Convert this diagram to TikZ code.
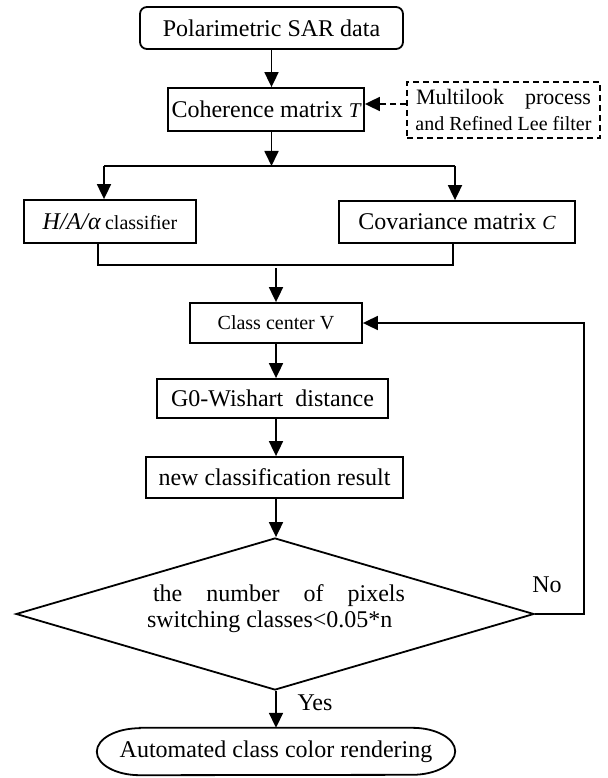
\documentclass[tikz,border=0pt]{standalone}
\usepackage{fontspec}
\setmainfont{Liberation Serif}
\usetikzlibrary{arrows.meta,shapes.geometric}
\begin{document}
\begin{tikzpicture}[x=1pt,y=-1pt,
  txt/.style={font=\fontsize{24pt}{28pt}\selectfont, inner sep=0pt},
  box/.style={txt, draw, line width=1.8pt},
  arr/.style={line width=1.8pt, -{Triangle[length=15pt,width=14pt]}},
  ln/.style={line width=1.8pt},
  dashline/.style={dash pattern=on 6pt off 4pt}
]
\useasboundingbox (0,0) rectangle (607,778);
% nodes
\node[box, rounded corners=7pt, minimum width=263pt, minimum height=42pt] (sar) at (271.5,28) {Polarimetric SAR data};
\node[box, minimum width=196pt, minimum height=43pt] (coh) at (266,109.5) {Coherence matrix {\fontsize{21pt}{24pt}\selectfont\itshape T}};
\node[box, dashline, minimum width=193pt, minimum height=56pt, align=center, font=\fontsize{20pt}{26pt}\selectfont] (multi) at (503.5,110) {{\fontsize{22pt}{26pt}\selectfont\makebox[175pt][s]{Multilook process}}\\and Refined Lee filter};
\node[box, minimum width=172pt, minimum height=43pt] (ha) at (110,221.5) {\textit{H/A/α}\,{\fontsize{20pt}{24pt}\selectfont classifier}};
\node[box, minimum width=236pt, minimum height=42pt] (cov) at (457,222) {Covariance matrix {\fontsize{20pt}{24pt}\selectfont\itshape C}};
\node[box, font=\fontsize{20pt}{24pt}\selectfont, minimum width=172pt, minimum height=40pt] (cls) at (276,323) {Class center V};
\node[box, minimum width=231pt, minimum height=39pt] (g0) at (272.5,398.5) {G0-Wishart\ \ distance};
\node[box, minimum width=257pt, minimum height=41pt] (new) at (274.5,477.5) {new classification result};
\node[draw, diamond, line width=1.8pt, aspect=3.4, minimum width=518pt, minimum height=152pt, inner sep=0pt] (dia) at (275,614) {};
\node[txt, align=left, font=\fontsize{24pt}{26pt}\selectfont] (dtext) at (276,609) {\hspace*{6pt}\makebox[252pt][s]{the number of pixels}\\switching classes<0.05*n};
\node[txt] (no) at (547,585) {No};
\node[txt] (yes) at (315,703) {Yes};
\node[txt, minimum width=358pt, minimum height=47pt] (endn) at (276,751.5) {Automated class color rendering};
\draw[ln] ([xshift=43pt]endn.north west) -- ([xshift=-43pt]endn.north east)
  arc[start angle=90,end angle=-90,x radius=43pt,y radius=23.5pt]
  -- ([xshift=43pt]endn.south west)
  arc[start angle=270,end angle=90,x radius=43pt,y radius=23.5pt] -- cycle;
% coordinates
\coordinate (s) at (271.5,166);
\coordinate (sl) at (104,166);
\coordinate (sr) at (455,166);
\coordinate (jl) at (98,265);
\coordinate (jr) at (453,265);
\coordinate (j) at (276,268);
\coordinate (fb) at (584,0);
% connectors
\draw[arr] (sar.south) -- (sar.south |- coh.north);
\draw[arr, dashline] ([yshift=6pt]multi.west) -- ([yshift=6pt]multi.west -| coh.east);
\draw[arr] (coh.south -| s) -- (s);
\draw[ln] (sl) -- (sr);
\draw[arr] (sl) -- (sl |- ha.north);
\draw[arr] (sr) -- (sr |- cov.north);
\draw[ln] (jl |- ha.south) -- (jl) -- (jr) -- (jr |- cov.south);
\draw[arr] (j) -- (j |- cls.north);
\draw[arr] (cls.south) -- (cls.south |- g0.north);
\draw[arr] (cls.south |- g0.south) -- (cls.south |- new.north);
\draw[arr] (cls.south |- new.south) -- (cls.south |- dia.north);
\draw[arr] (dia.east) -- (dia.east -| fb) -- (fb |- cls.east) -- (cls.east);
\draw[arr] (cls.south |- dia.south) -- (cls.south |- endn.north);
\end{tikzpicture}
\end{document}
